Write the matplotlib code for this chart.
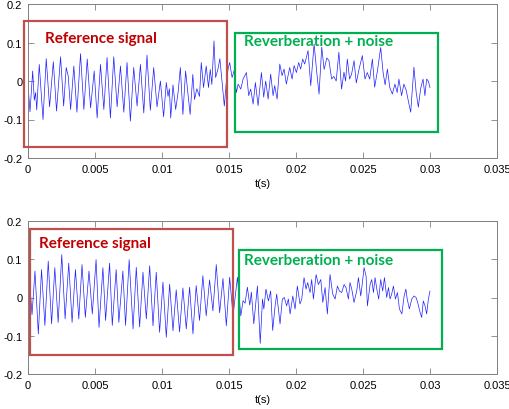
import numpy as np
import matplotlib
matplotlib.use("Agg")
import matplotlib.pyplot as plt
from matplotlib.patches import Rectangle

plt.rcParams['font.family'] = ['Liberation Sans', 'DejaVu Sans']

# ---------------- data (time in ms, amplitude) ----------------
top_t_ms = [0.0, 0.15, 0.35, 0.47, 0.57, 0.65, 0.84, 1.12, 1.36, 1.61, 1.89, 2.13, 2.43, 2.66,
            2.85, 3.0, 3.18, 3.42, 3.65, 3.92, 4.17, 4.42, 4.67, 4.94, 5.16, 5.41, 5.66, 5.9,
            6.15, 6.4, 6.65, 6.9, 7.15, 7.39, 7.64, 7.89, 8.14, 8.39, 8.64, 8.88, 9.13, 9.38,
            9.63, 9.88, 10.12, 10.32, 10.45, 10.55, 10.65, 10.82, 11.02, 11.2, 11.37, 11.56,
            11.76, 11.94, 12.1, 12.3, 12.43, 12.6, 12.8, 12.93, 13.1, 13.3, 13.47, 13.6, 13.72,
            13.88, 14.0, 14.17, 14.32, 14.5, 14.65, 14.82, 14.95,
            15.05, 15.23, 15.38, 15.55, 15.68, 15.88, 16.05, 16.3, 16.47, 16.62, 16.8, 16.97,
            17.17, 17.42, 17.59, 17.74, 17.92, 18.11, 18.29, 18.41, 18.59, 18.79, 18.96, 19.11,
            19.28, 19.53, 19.71, 19.86, 20.03, 20.2, 20.35, 20.5, 20.65, 20.9, 21.1, 21.35,
            21.55, 21.72, 21.92, 22.1, 22.3, 22.46, 22.66, 22.82, 23.0, 23.2, 23.4, 23.58,
            23.7, 23.83, 24.0, 24.15, 24.33, 24.5, 24.7, 24.95, 25.15, 25.32, 25.5, 25.7,
            25.87, 26.08, 26.32, 26.5, 26.65, 26.82, 27.0, 27.19, 27.38, 27.55, 27.68, 27.88,
            28.05, 28.23, 28.43, 28.56, 28.8, 28.97, 29.13, 29.3, 29.48, 29.62, 29.75, 29.87,
            30.0]
top_vals = [-0.01, -0.08, 0.026, -0.05, -0.03, -0.075, 0.043, -0.10, 0.058, -0.067, 0.05, -0.078,
            0.063, -0.065, 0.035, 0.013, -0.074, 0.039, -0.081, 0.071, -0.074, 0.057, -0.07,
            0.026, -0.096, 0.043, -0.074, 0.061, -0.096, 0.063, -0.067, 0.039, -0.081, 0.048,
            -0.104, 0.035, -0.065, 0.043, -0.083, 0.067, -0.076, 0.035, -0.067, 0.0, -0.093,
            -0.004, -0.04, -0.02, -0.096, -0.01, -0.074, -0.03, 0.035, -0.087, 0.026, -0.035,
            -0.087, 0.017, -0.048, -0.02, -0.04, 0.048, -0.017, 0.039, -0.017, 0.03, -0.009,
            0.104, 0.009, 0.03, 0.058, -0.01, -0.065, 0.005, 0.035,
            0.048, 0.009, 0.027, -0.03, -0.008, -0.021, 0.005, 0.022, -0.038, -0.021, -0.06,
            -0.004, -0.064, 0.022, -0.042, 0.0, -0.047, 0.018, -0.038, -0.012, -0.047, 0.044,
            0.014, 0.031, -0.008, 0.035, 0.005, 0.04, 0.022, 0.048, 0.031, 0.057, 0.044, 0.079,
            -0.012, 0.096, 0.022, -0.034, 0.088, 0.03, 0.06, 0.053, 0.005, 0.012, 0.0, 0.075,
            -0.021, 0.023, 0.0, 0.057, 0.005, 0.018, 0.053, -0.005, 0.03, 0.066, 0.005, 0.022,
            0.005, 0.057, -0.016, 0.027, 0.087, 0.022, -0.01, 0.031, -0.017, -0.034, -0.008,
            -0.03, 0.005, -0.038, -0.008, -0.025, -0.06, -0.081, 0.036, -0.03, -0.068, -0.02,
            0.005, -0.038, 0.005, 0.0, -0.017]

bot_t_ms = [0.0, 0.15, 0.3, 0.52, 0.77, 1.01, 1.26, 1.51, 1.76, 2.0, 2.25, 2.52, 2.77, 3.04,
            3.29, 3.54, 3.79, 4.03, 4.28, 4.55, 4.8, 5.08, 5.3, 5.59, 5.79, 6.09, 6.29, 6.58,
            6.78, 7.08, 7.28, 7.55, 7.84, 8.08, 8.33, 8.58, 8.83, 9.08, 9.33, 9.57, 9.82, 10.07,
            10.32, 10.57, 10.82, 11.06, 11.31, 11.56, 11.81, 12.06, 12.31, 12.55, 12.8, 13.05,
            13.3, 13.55, 13.8, 14.05, 14.3, 14.55, 14.8, 15.05, 15.3, 15.63, 15.88, 16.05, 16.2,
            16.37, 16.55, 16.67, 16.85, 17.12, 17.33, 17.5, 17.6, 17.76, 17.94, 18.11, 18.26,
            18.44, 18.56, 18.81, 18.98, 19.13, 19.3, 19.43, 19.56, 19.76, 19.93, 20.1, 20.3,
            20.43, 20.6, 20.75, 20.87, 21.05, 21.17, 21.3, 21.5, 21.67, 21.85, 22.0, 22.17,
            22.34, 22.54, 22.74, 22.92, 23.09, 23.24, 23.41, 23.59, 23.73, 23.91, 24.03, 24.16,
            24.33, 24.53, 24.66, 24.83, 24.9, 25.08, 25.23, 25.33, 25.53, 25.65, 25.78, 25.9,
            26.03, 26.17, 26.32, 26.47, 26.6, 26.77, 26.9, 27.02, 27.14, 27.27, 27.42, 27.57,
            27.72, 27.9, 28.07, 28.2, 28.3, 28.46, 28.64, 28.81, 28.96, 29.08, 29.26, 29.38,
            29.5, 29.63, 29.75, 29.88, 30.0]
bot_vals = [0.073, 0.03, -0.045, 0.069, -0.095, 0.073, -0.073, 0.095, -0.069, 0.078, -0.065,
            0.112, -0.056, 0.09, -0.065, 0.073, -0.056, 0.086, -0.052, 0.069, -0.043, 0.099,
            -0.078, 0.078, -0.06, 0.09, -0.073, 0.073, -0.065, 0.069, -0.073, 0.099, -0.082,
            0.079, -0.077, 0.066, -0.056, 0.083, -0.074, 0.066, -0.091, 0.04, -0.104, 0.035,
            -0.087, 0.02, -0.09, 0.025, -0.082, 0.027, -0.095, 0.031, -0.06, 0.057, -0.048,
            0.046, -0.035, 0.086, -0.04, 0.05, -0.074, 0.053, -0.048, 0.053, -0.048, -0.008,
            -0.015, 0.027, -0.02, 0.014, -0.069, 0.03, -0.12, -0.004, -0.03, 0.022, -0.009,
            0.017, -0.086, -0.022, 0.009, -0.069, -0.004, 0.0, -0.022, -0.004, -0.043, 0.004,
            -0.03, 0.03, -0.017, -0.004, 0.052, 0.022, 0.039, 0.013, 0.047, -0.004, 0.06,
            0.034, 0.047, -0.013, 0.026, -0.043, 0.06, 0.009, -0.004, 0.03, 0.017, 0.013, 0.034,
            0.026, -0.004, 0.039, 0.022, -0.013, 0.017, 0.052, 0.004, 0.022, 0.078, 0.056,
            -0.022, 0.034, 0.047, 0.013, 0.052, 0.022, -0.004, 0.047, 0.017, 0.052, 0.0, 0.026,
            -0.004, 0.009, 0.03, -0.004, 0.013, -0.03, -0.043, 0.004, 0.022, -0.004, -0.03,
            -0.004, 0.004, 0.0, -0.013, -0.039, -0.052, -0.009, -0.022, -0.043, -0.004, 0.017]

x_ticks = [0, 0.005, 0.01, 0.015, 0.02, 0.025, 0.03, 0.035]
x_tick_labels = ['0', '0.005', '0.01', '0.015', '0.02', '0.025', '0.03', '0.035']
y_ticks = [-0.2, -0.1, 0, 0.1, 0.2]
y_tick_labels = ['-0.2', '-0.1', '0', '0.1', '0.2']

box_labels = ['Reference signal', 'Reverberation + noise']

# ---------------- figure ----------------
W, H = 510, 410
fig = plt.figure(figsize=(W / 100, H / 100), dpi=100)
ax1 = fig.add_axes([28 / W, 1 - 159 / H, 469 / W, 154 / H])
ax2 = fig.add_axes([28 / W, 1 - 375 / H, 469 / W, 153 / H])

RED_BOX = '#C0504D'
RED_TXT = '#C00000'
GREEN = '#00B050'

layout = [
    (ax1, top_t_ms, top_vals,
     [(-0.0003, -0.171, 0.01515, 0.327), (0.01545, -0.1325, 0.01515, 0.258)],
     [(0.00127, 0.112), (0.0161, 0.104)]),
    (ax2, bot_t_ms, bot_vals,
     [(0.00015, -0.150, 0.01513, 0.329), (0.01575, -0.1346, 0.01512, 0.2596)],
     [(0.00084, 0.1425), (0.0161, 0.098)]),
]

for ax, t_ms, vals, boxes, txts in layout:
    t = np.asarray(t_ms) / 1000.0
    ax.plot(t, vals, color='#2020ff', lw=0.5)
    ax.set_xlim(0, 0.035)
    ax.set_ylim(-0.2, 0.2)
    ax.set_xticks(x_ticks)
    ax.set_xticklabels(x_tick_labels)
    ax.set_yticks(y_ticks)
    ax.set_yticklabels(y_tick_labels)
    ax.tick_params(direction='in', top=True, right=True, length=4, width=0.6,
                   colors='#808080', labelcolor='black', labelsize=8, pad=4)
    for s in ax.spines.values():
        s.set_color('#808080')
        s.set_linewidth(0.7)
    ax.set_xlabel('t(s)', fontsize=8, labelpad=3)
    cols = [(RED_BOX, RED_TXT), (GREEN, GREEN)]
    for (x0, y0, w, h), (tx, ty), (bc, tc), lab in zip(boxes, txts, cols, box_labels):
        ax.add_patch(Rectangle((x0, y0), w, h, fill=False, ec=bc, lw=1.6, clip_on=False, zorder=3))
        ax.text(tx, ty, lab, color=tc, fontsize=11, fontweight='bold', family=['Lato', 'DejaVu Sans'],
                ha='left', va='center', zorder=4)

fig.savefig('out.png', dpi=100)
